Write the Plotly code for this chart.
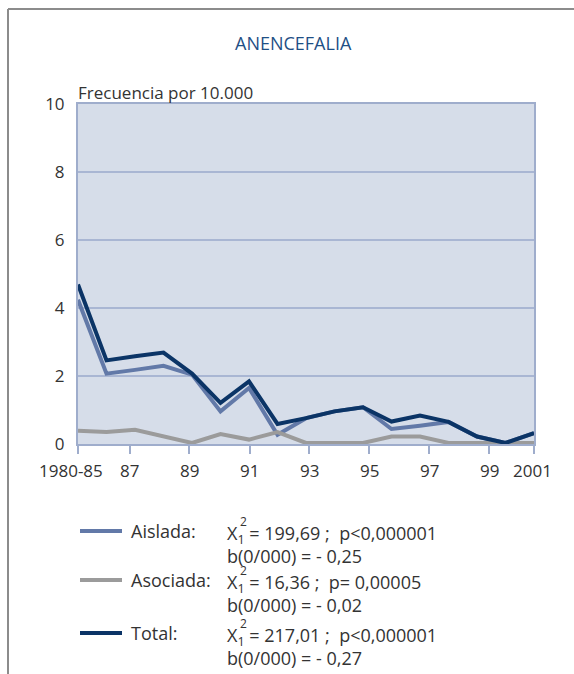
import plotly.graph_objects as go

# Anencefalia: frecuencia por 10.000 nacimientos, 1980-85 a 2001
periodos = ["1980-85", "86", "87", "88", "89", "90", "91", "92", "93",
            "94", "95", "96", "97", "98", "99", "2000", "2001"]
aislada = [4.24, 2.07, 2.18, 2.30, 2.04, 0.96, 1.65, 0.27, 0.76,
           0.96, 1.08, 0.44, 0.54, 0.65, 0.22, 0.03, 0.32]
asociada = [0.39, 0.35, 0.42, 0.22, 0.03, 0.29, 0.13, 0.35, 0.03,
            0.03, 0.03, 0.22, 0.22, 0.03, 0.03, 0.03, 0.03]
total = [4.69, 2.46, 2.58, 2.69, 2.07, 1.21, 1.84, 0.59, 0.76,
         0.96, 1.08, 0.66, 0.84, 0.65, 0.22, 0.03, 0.32]

# x-axis labels and where they sit along the period index
tick_text = ["1980-85", "87", "89", "91", "93", "95", "97", "99", "2001"]
tick_pos = [0, 1.82, 3.90, 6.03, 8.11, 10.22, 12.32, 14.43, 16]
label_shift = [-7, 0, 0, 0, 0, 0, 0, 0, -2]

# legend texts
series_names = ["Aislada:", "Asociada:", "Total:"]
chi_text = ["= 199,69 ;  p<0,000001", "= 16,36 ;  p= 0,00005", "= 217,01 ;  p<0,000001"]
slope_text = ["b(0/000) = - 0,25", "b(0/000) = - 0,02", "b(0/000) = - 0,27"]

C_AIS = "#6279a8"
C_ASO = "#9b9b9b"
C_TOT = "#0b3466"
C_FRAME = "#9fadcc"
C_GRID = "#a9b6d3"
C_BG = "#d6dde9"
C_TXT = "#333333"
FONT = "Open Sans"

W, H = 574, 674
ML, MR, MT, MB = 78, 40, 104, 230
PW, PH = W - ML - MR, H - MT - MB


def px(x):
    return (x - ML) / PW


def py(y):
    return (H - MB - y) / PH


idx = list(range(len(periodos)))
fig = go.Figure()
for name, vals, col in [("Aislada", aislada, C_AIS), ("Asociada", asociada, C_ASO),
                        ("Total", total, C_TOT)]:
    fig.add_trace(go.Scatter(x=idx, y=vals, mode="lines", name=name,
                             line=dict(color=col, width=4), hoverinfo="skip",
                             customdata=periodos))

fig.update_layout(
    width=W, height=H,
    margin=dict(l=ML, r=MR, t=MT, b=MB),
    paper_bgcolor="white", plot_bgcolor=C_BG,
    showlegend=False,
    font=dict(family=FONT, color=C_TXT, size=17),
    xaxis=dict(range=[0, 16], tickvals=tick_pos, showticklabels=False,
               showgrid=False, zeroline=False, showline=True, mirror=True,
               linecolor=C_FRAME, linewidth=2, ticks="outside", ticklen=8,
               tickcolor=C_FRAME, tickwidth=1.5),
    yaxis=dict(range=[0, 10], tickvals=[0, 2, 4, 6, 8, 10], showgrid=True,
               gridcolor=C_GRID, gridwidth=1.5, zeroline=False, showline=True,
               mirror=True, linecolor=C_FRAME, linewidth=2, ticks="",
               ticklabelstandoff=8, tickfont=dict(size=17, color=C_TXT)),
)

# x-axis tick labels
for t, p, s in zip(tick_text, tick_pos, label_shift):
    fig.add_annotation(text=t, xref="x", yref="paper", x=p, y=py(470), xshift=s,
                       showarrow=False, xanchor="center", yanchor="middle",
                       font=dict(size=17, color=C_TXT))

# outer frame (top and left edges)
fig.add_shape(type="line", xref="paper", yref="paper", x0=px(8), x1=px(W + 5),
              y0=py(9), y1=py(9), line=dict(color="#8c8c8c", width=2))
fig.add_shape(type="line", xref="paper", yref="paper", x0=px(8), x1=px(8),
              y0=py(9), y1=py(H + 5), line=dict(color="#8c8c8c", width=2))

# title and axis caption
fig.add_annotation(text="ANENCEFALIA", xref="paper", yref="paper", x=px(293), y=py(43),
                   showarrow=False, xanchor="center", yanchor="middle",
                   font=dict(size=18, color="#1f4f85"))
fig.add_annotation(text="Frecuencia por 10.000", xref="paper", yref="paper", x=px(76), y=py(93),
                   showarrow=False, xanchor="left", yanchor="middle",
                   font=dict(size=17, color=C_TXT))

# legend with test statistics
rows = [531, 580, 633]
cols = [C_AIS, C_ASO, C_TOT]
for i in range(3):
    y0 = rows[i]
    fig.add_shape(type="line", xref="paper", yref="paper", x0=px(80), x1=px(122),
                  y0=py(y0), y1=py(y0), line=dict(color=cols[i], width=4))
    fig.add_annotation(text=series_names[i], xref="paper", yref="paper", x=px(129), y=py(y0),
                       showarrow=False, xanchor="left", yanchor="middle",
                       font=dict(size=18, color=C_TXT))
    fig.add_annotation(text="X<sub>1</sub> " + chi_text[i] + "<br>" + slope_text[i],
                       xref="paper", yref="paper", x=px(225), y=py(y0 - 12),
                       showarrow=False, xanchor="left", yanchor="top", align="left",
                       font=dict(size=18, color=C_TXT))
    fig.add_annotation(text="2", xref="paper", yref="paper", x=px(238), y=py(y0 - 10),
                       showarrow=False, xanchor="left", yanchor="middle",
                       font=dict(size=12, color=C_TXT))

fig.write_html("out.html")
